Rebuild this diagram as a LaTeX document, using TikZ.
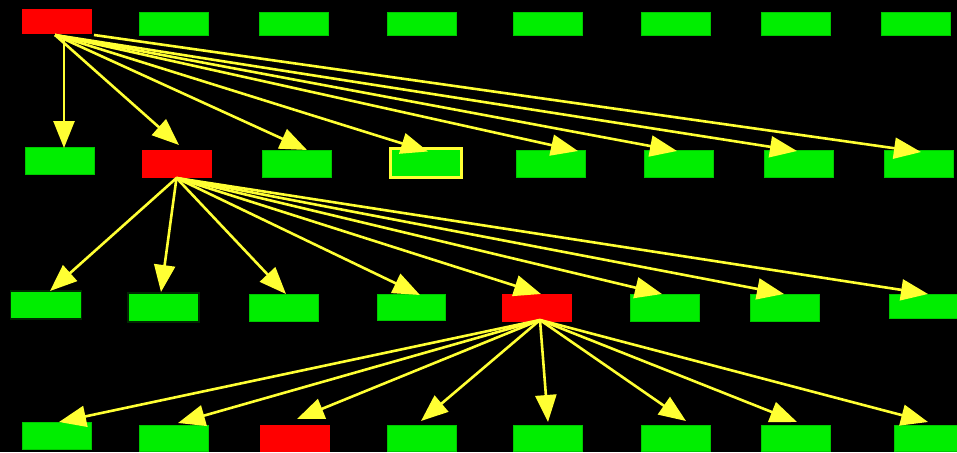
\documentclass[tikz,border=0pt]{standalone}
\usetikzlibrary{arrows.meta}
\definecolor{gr}{RGB}{0,238,0}
\definecolor{grd}{RGB}{0,200,0}
\definecolor{rd}{RGB}{255,0,0}
\definecolor{yl}{RGB}{255,255,51}
\definecolor{dk}{RGB}{0,40,0}
\begin{document}
\begin{tikzpicture}[x=1pt,y=-1pt,
  box/.style={inner sep=0pt, outer sep=0pt, minimum width=69pt, minimum height=27pt, line width=0.6pt},
  gbox/.style={box, fill=gr, draw=grd},
  gboxo/.style={box, fill=gr, draw=dk, line width=1.6pt, minimum width=71pt, minimum height=29pt},
  rbox/.style={box, fill=rd, draw=rd},
  ybox/.style={box, fill=gr, draw=yl, line width=3pt, minimum width=71pt, minimum height=29pt},
  edge/.style={draw=yl, line width=2.6pt, -{Triangle[length=27pt,width=21pt]}}]
\useasboundingbox (0,0) rectangle (957,452);
\fill[black] (0,0) rectangle (957,452);
\clip (0,0) rectangle (957,452);
% row 0
\node[rbox, minimum height=24pt] (r00) at (56.5,21) {};
\node[gbox, minimum height=23pt] (r01) at (173.5,23.5) {};
\node[gbox, minimum height=23pt] (r02) at (293.5,23.5) {};
\node[gbox, minimum height=23pt] (r03) at (422,23.5) {};
\node[gbox, minimum height=23pt] (r04) at (547.5,23.5) {};
\node[gbox, minimum height=23pt] (r05) at (675.5,23.5) {};
\node[gbox, minimum height=23pt] (r06) at (795.5,23.5) {};
\node[gbox, minimum height=23pt] (r07) at (915.5,23.5) {};
% row 1
\node[gbox] (r10) at (59.5,160.5) {};
\node[rbox] (r11) at (176.5,163.5) {};
\node[gbox] (r12) at (296.5,163.5) {};
\node[ybox] (r13) at (425.5,163) {};
\node[gbox] (r14) at (550.5,163.5) {};
\node[gbox] (r15) at (678.5,163.5) {};
\node[gbox] (r16) at (798.5,163.5) {};
\node[gbox] (r17) at (918.5,163.5) {};
% row 2
\node[gboxo, minimum height=28pt] (r20) at (46,305) {};
\node[gboxo] (r21) at (163.5,307.5) {};
\node[gbox] (r22) at (283.5,307.5) {};
\node[gbox, minimum width=68pt, minimum height=26pt] (r23) at (411,307) {};
\node[rbox] (r24) at (537,307.5) {};
\node[gbox] (r25) at (665,307.5) {};
\node[gbox] (r26) at (785,307.5) {};
\node[gbox, minimum height=24pt] (r27) at (923.5,306) {};
% row 3
\node[gbox] (r30) at (56.5,435.5) {};
\node[gbox, minimum height=26pt] (r31) at (174,438) {};
\node[rbox, minimum height=26pt] (r32) at (294.5,438) {};
\node[gbox, minimum height=26pt] (r33) at (422,438) {};
\node[gbox, minimum height=26pt] (r34) at (547.5,438) {};
\node[gbox, minimum height=26pt] (r35) at (675.5,438) {};
\node[gbox, minimum height=26pt] (r36) at (795.5,438) {};
\node[gbox, minimum height=26pt] (r37) at (928.5,438) {};
% edges row 0 -> row 1
\draw[edge] ([xshift=7.5pt,yshift=-2pt]r00.south) -- ([xshift=4.5pt,yshift=-1pt]r10.north);
\draw[edge] ([xshift=-1.5pt,yshift=-2pt]r00.south) -- ([xshift=2.5pt,yshift=5pt]r11.north);
\draw[edge] ([xshift=-1.5pt,yshift=-2pt]r00.south) -- ([xshift=10.5pt]r12.north);
\draw[edge] ([xshift=-1.5pt,yshift=-2pt]r00.south) -- ([xshift=2.5pt,yshift=-3pt]r13.north);
\draw[edge] ([xshift=-1.5pt,yshift=-2pt]r00.south) -- ([xshift=27.5pt,yshift=-1pt]r14.north);
\draw[edge] ([xshift=-1.5pt,yshift=-2pt]r00.south) -- ([xshift=-1.5pt,yshift=-1pt]r15.north);
\draw[edge] ([xshift=-1.5pt,yshift=-2pt]r00.south) -- ([xshift=-1.5pt,yshift=-1pt]r16.north);
\draw[edge] ([xshift=3pt,yshift=-2pt]r00.south east) -- ([xshift=2.5pt,yshift=-2pt]r17.north);
% edges row 1 -> row 2
\draw[edge] ([yshift=-1pt]r11.south) -- ([xshift=4pt]r20.north);
\draw[edge] ([yshift=-1pt]r11.south) -- ([xshift=-2.5pt,yshift=1pt]r21.north);
\draw[edge] ([yshift=-1pt]r11.south) -- ([xshift=2.5pt]r22.north);
\draw[edge] ([yshift=-1pt]r11.south) -- ([xshift=9pt,yshift=-1pt]r23.north);
\draw[edge] ([yshift=-1pt]r11.south) -- ([xshift=4pt]r24.north);
\draw[edge] ([yshift=-1pt]r11.south) -- ([xshift=-3pt]r25.north);
\draw[edge] ([yshift=-1pt]r11.south) -- ([xshift=-1pt]r26.north);
\draw[edge] ([yshift=-1pt]r11.south) -- ([xshift=4.5pt]r27.north);
% edges row 2 -> row 3
\draw[edge] ([xshift=3pt,yshift=1pt]r24.south) -- ([xshift=2.5pt]r30.north);
\draw[edge] ([xshift=3pt,yshift=1pt]r24.south) -- ([xshift=4pt,yshift=2pt]r31.north);
\draw[edge] ([xshift=3pt,yshift=1pt]r24.south) -- ([xshift=2.5pt,yshift=6pt]r32.north);
\draw[edge] ([xshift=3pt,yshift=1pt]r24.south) -- ([xshift=-1pt,yshift=4pt]r33.north);
\draw[edge] ([xshift=3pt,yshift=1pt]r24.south) -- ([xshift=0.5pt,yshift=3pt]r34.north);
\draw[edge] ([xshift=3pt,yshift=1pt]r24.south) -- ([xshift=10.5pt,yshift=4pt]r35.north);
\draw[edge] ([xshift=3pt,yshift=1pt]r24.south) -- ([xshift=1.5pt,yshift=3pt]r36.north);
\draw[edge] ([xshift=3pt,yshift=1pt]r24.south) -- ([xshift=-0.5pt,yshift=3pt]r37.north);
\end{tikzpicture}
\end{document}
